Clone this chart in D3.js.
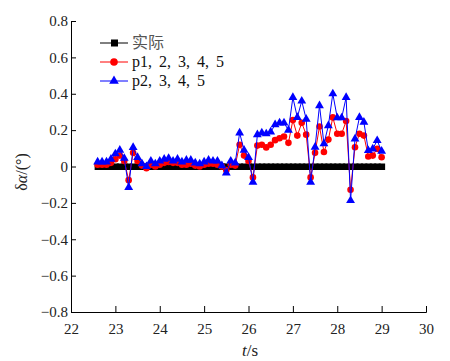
<!DOCTYPE html>
<html><head><meta charset="utf-8">
<script src="https://cdn.jsdelivr.net/npm/d3@7"></script>
<style>body{margin:0;background:#fff}svg{display:block}
svg text{font-family:"Liberation Serif","DejaVu Serif",serif}
</style>
</head><body>
<svg id="c" width="450" height="361"></svg>
<script>
const times = [22.6,22.7,22.8,22.9,23.0,23.1,23.2,23.3,23.4,23.5,23.6,23.7,23.8,23.9,24.0,24.1,24.2,24.3,24.4,24.5,24.6,24.7,24.8,24.9,25.0,25.1,25.2,25.3,25.4,25.5,25.6,25.7,25.8,25.9,26.0,26.1,26.2,26.3,26.4,26.5,26.6,26.7,26.8,26.9,27.0,27.1,27.2,27.3,27.4,27.5,27.6,27.7,27.8,27.9,28.0,28.1,28.2,28.3,28.4,28.5,28.6,28.7,28.8,28.9,29.0];
const actual = times.map(() => 0);
const p12345 = [0.01,0.01,0.01,0.02,0.04,0.06,0.03,-0.075,0.075,0.03,0.005,-0.01,0.01,0.0,0.01,0.02,0.025,0.02,0.02,0.01,0.01,0.015,0.005,0.0,0.01,0.015,0.015,0.01,0.0,-0.02,0.01,0.005,0.12,0.06,0.03,-0.06,0.115,0.12,0.105,0.12,0.145,0.155,0.165,0.13,0.255,0.17,0.24,0.175,-0.06,0.075,0.22,0.08,0.148,0.27,0.18,0.18,0.25,-0.128,0.106,0.18,0.17,0.055,0.06,0.097,0.051];
const p2345 = [0.025,0.025,0.025,0.04,0.07,0.09,0.045,-0.115,0.105,0.05,0.015,0.0,0.03,0.015,0.03,0.04,0.045,0.03,0.04,0.025,0.035,0.035,0.02,0.015,0.025,0.035,0.03,0.03,0.005,-0.035,0.03,0.02,0.185,0.09,0.05,-0.086,0.175,0.185,0.18,0.19,0.23,0.24,0.24,0.2,0.38,0.27,0.36,0.26,-0.086,0.106,0.335,0.125,0.225,0.4,0.268,0.268,0.38,-0.187,0.152,0.27,0.244,0.088,0.097,0.143,0.084];
const xTicks = [22,23,24,25,26,27,28,29,30];
const yTicks = [-0.8,-0.6,-0.4,-0.2,0,0.2,0.4,0.6,0.8];
const legendLabels = ["实际","p1, 2, 3, 4, 5","p2, 3, 4, 5"];

const svg = d3.select("#c");
const x = d3.scaleLinear().domain([22,30]).range([71,426]);
const y = d3.scaleLinear().domain([-0.8,0.8]).range([312,21]);
const font = '"Liberation Serif","DejaVu Serif",serif';

const fmt = d => d === 0 ? "0" : (d < 0 ? "\u2212" + d3.format(".1f")(-d) : d3.format(".1f")(d));
const gx = svg.append("g").attr("transform","translate(0,312)");
gx.call(d3.axisBottom(x).tickValues(d3.range(22.5,30,1)).tickSize(-3).tickFormat(""));
gx.call(d3.axisBottom(x).tickValues(xTicks).tickSize(-6).tickPadding(11).tickFormat(d3.format("d")));
const gy = svg.append("g").attr("transform","translate(71,0)");
gy.call(d3.axisLeft(y).tickValues(d3.range(-0.7,0.8,0.2)).tickSize(-3).tickFormat(""));
gy.call(d3.axisLeft(y).tickValues(yTicks).tickSize(-5).tickPadding(3).tickFormat(fmt));
svg.selectAll("g").attr("font-family",null).attr("font-size",null);
svg.selectAll(".domain").attr("stroke","#000");
svg.selectAll(".tick line").attr("stroke","#000");
svg.selectAll(".tick text").style("font-family",font).style("font-size","15px").attr("fill","#222");

// axis titles
const xt = svg.append("text").attr("x",250).attr("y",356).attr("text-anchor","middle")
  .style("font-family",font).style("font-size","17px").attr("fill","#222");
xt.append("tspan").attr("font-style","italic").text("t");
xt.append("tspan").text("/s");
const yt = svg.append("text").attr("transform","translate(27,172) rotate(-90)").attr("text-anchor","middle")
  .style("font-family",font).style("font-size","16px").attr("fill","#222");
yt.append("tspan").text("δ");
yt.append("tspan").attr("font-style","italic").text("α");
yt.append("tspan").text("/(°)");

// series
const line = d3.line().x(d => x(d[0])).y(d => y(d[1]));
const act = times.map((t,i) => [t, actual[i]]);
const red = times.map((t,i) => [t, p12345[i]]);
const blue = times.map((t,i) => [t, p2345[i]]);

svg.append("path").datum(act).attr("d",line).attr("fill","none").attr("stroke","#000").attr("stroke-width",2);
svg.selectAll(".sq").data(act).enter().append("rect")
  .attr("x",d => x(d[0])-3).attr("y",d => y(d[1])-3).attr("width",6.5).attr("height",6.5).attr("fill","#000");

svg.append("path").datum(red).attr("d",line).attr("fill","none").attr("stroke","#ff0000").attr("stroke-width",1);
svg.selectAll(".rc").data(red).enter().append("circle")
  .attr("cx",d => x(d[0])).attr("cy",d => y(d[1])).attr("r",3.3).attr("fill","#ff0000");

svg.append("path").datum(blue).attr("d",line).attr("fill","none").attr("stroke","#0000ff").attr("stroke-width",1);
const tri = d3.symbol().type(d3.symbolTriangle).size(34);
svg.selectAll(".bt").data(blue).enter().append("path")
  .attr("d",tri).attr("transform",d => `translate(${x(d[0])},${y(d[1])})`).attr("fill","#0000ff");

// legend
const ly = [43,62,81];
const lc = ["#000","#ff0000","#0000ff"];
legendLabels.forEach((lab,i) => {
  svg.append("line").attr("x1",100).attr("x2",128).attr("y1",ly[i]).attr("y2",ly[i]).attr("stroke",lc[i]).attr("stroke-width",1);
  if (i === 0) svg.append("rect").attr("x",111).attr("y",ly[i]-3.5).attr("width",7).attr("height",7).attr("fill","#000");
  if (i === 1) svg.append("circle").attr("cx",114).attr("cy",ly[i]).attr("r",3.8).attr("fill","#ff0000");
  if (i === 2) svg.append("path").attr("d",d3.symbol().type(d3.symbolTriangle).size(40)).attr("transform",`translate(114,${ly[i]})`).attr("fill","#0000ff");
  svg.append("text").attr("x",132).attr("y",ly[i]+5)
    .style("font-family", i===0 ? '"Noto Sans CJK SC",serif' : font)
    .style("font-size","16px").style("word-spacing", i===0 ? "0px" : "3px")
    .attr("fill", i===0 ? "#555" : "#111").text(lab);
});
</script>
</body></html>
